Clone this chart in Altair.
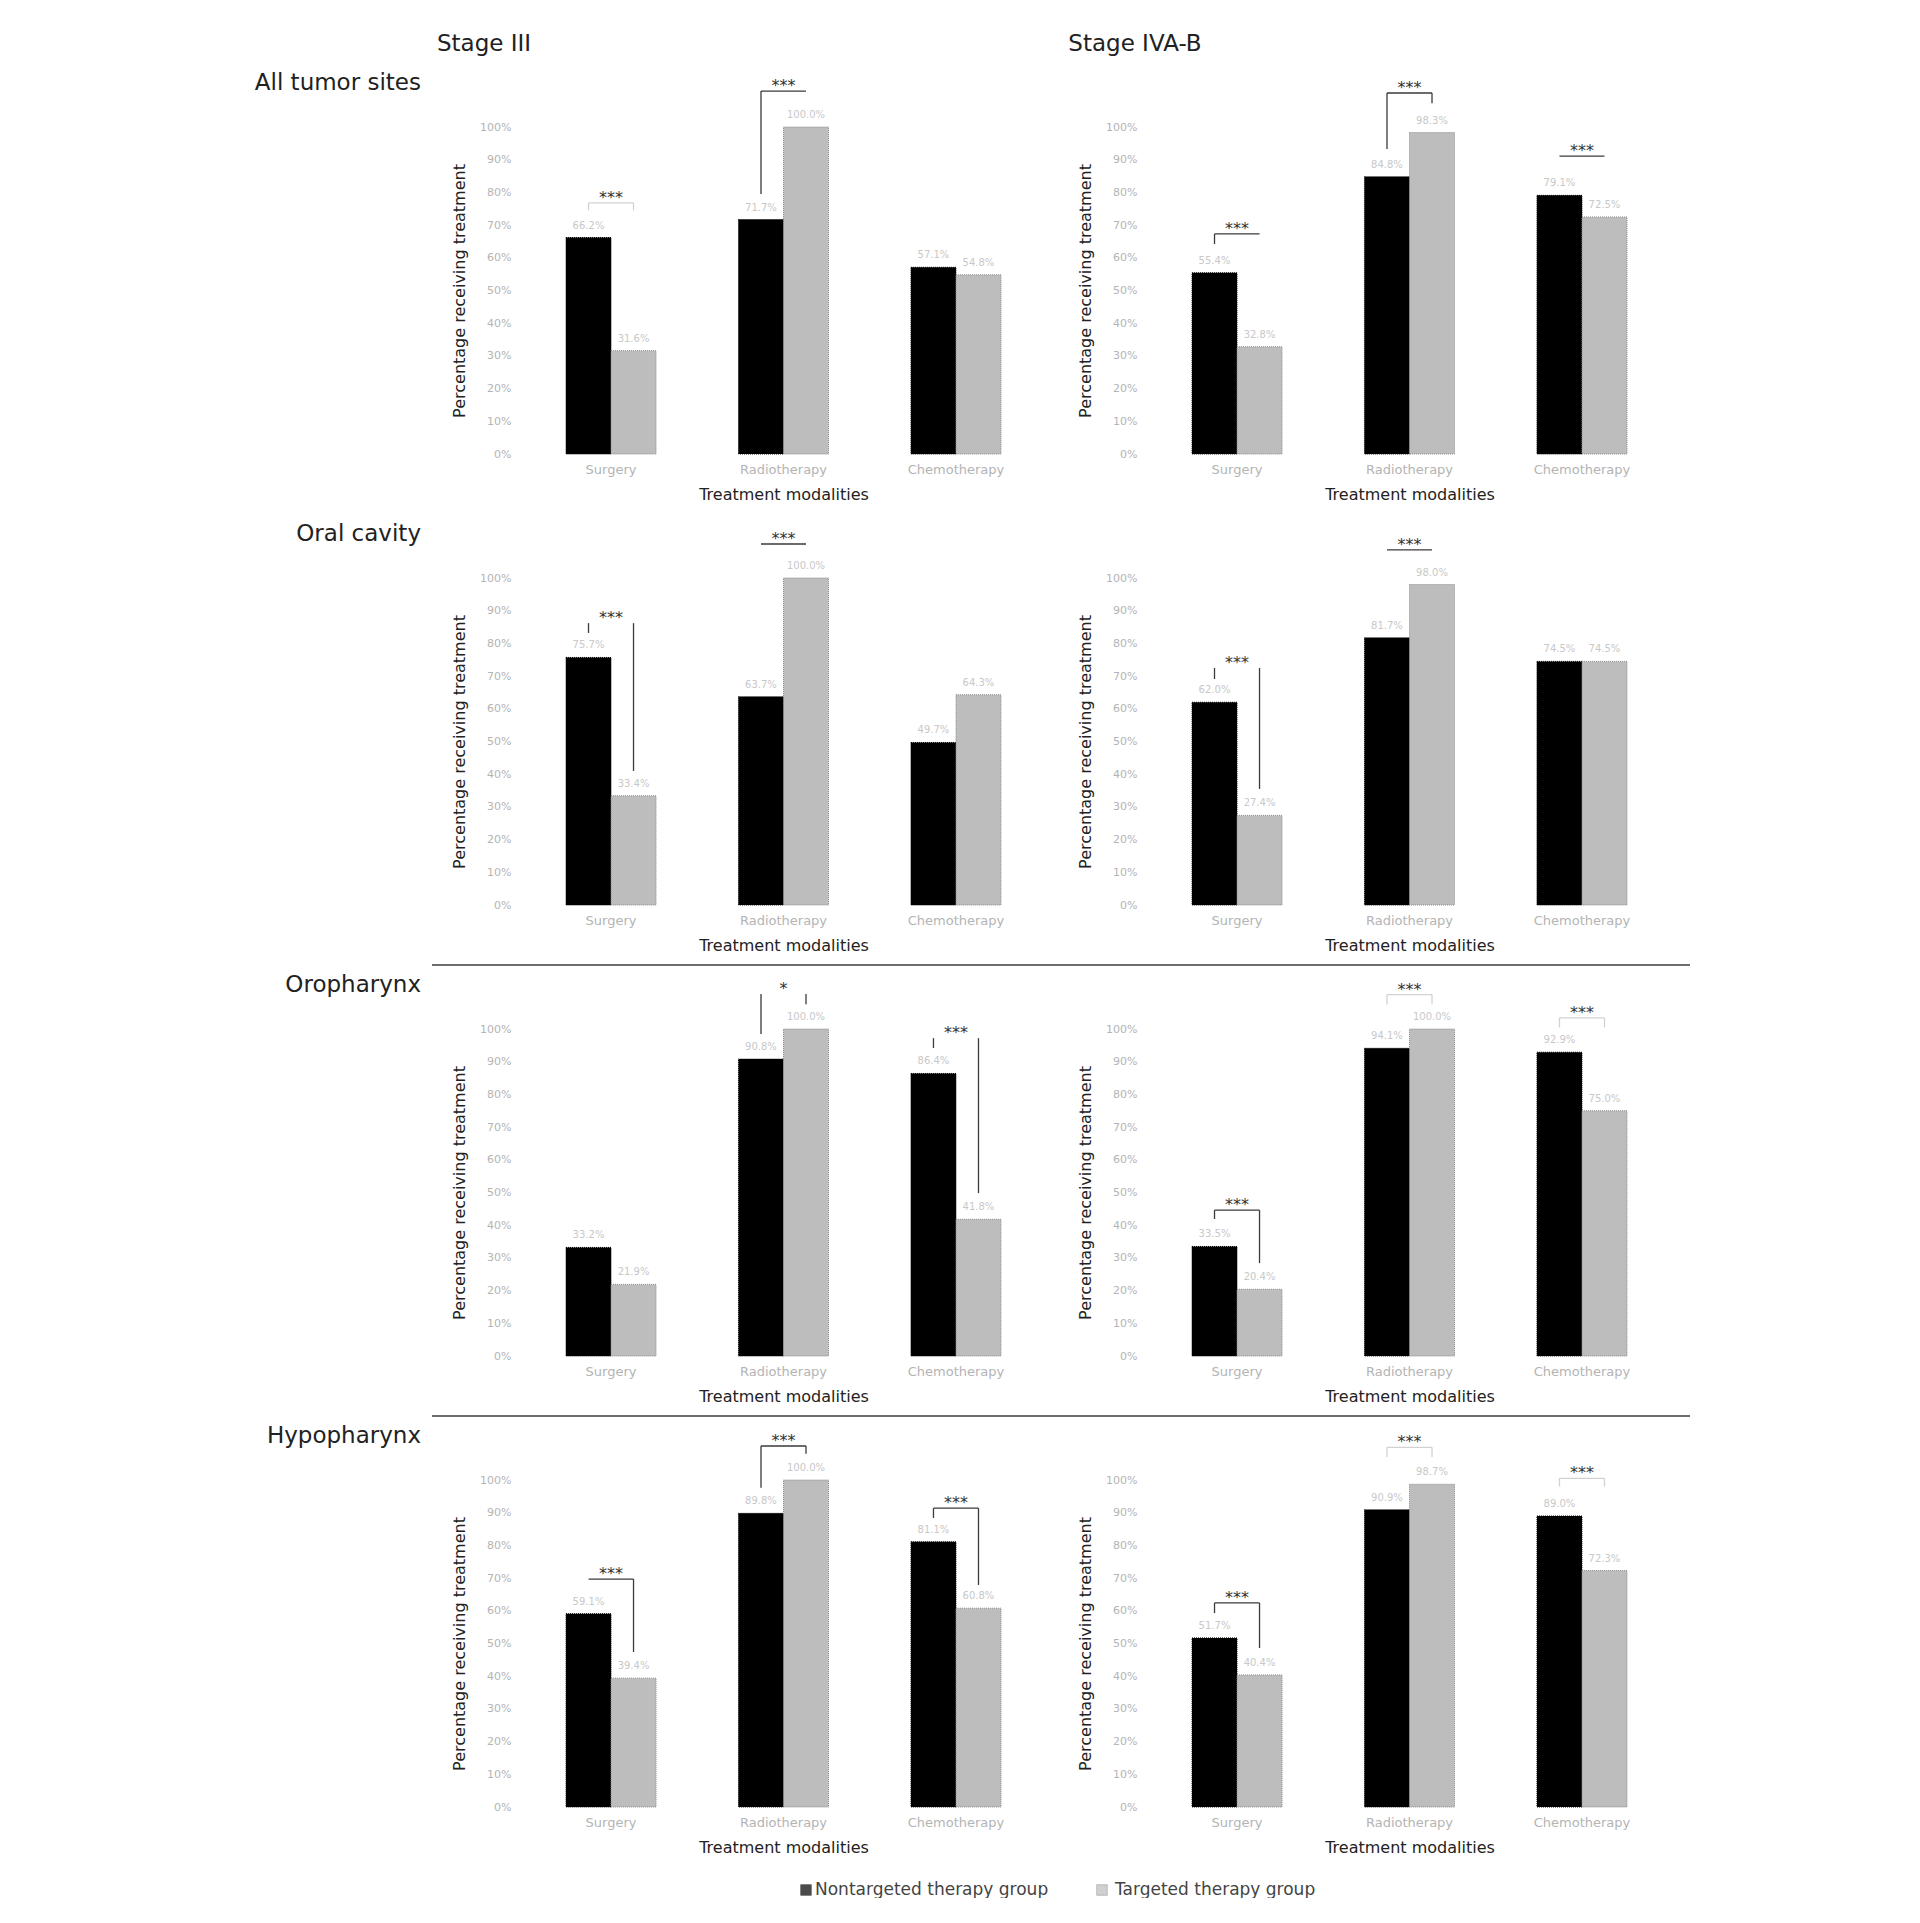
import altair as alt
import pandas as pd

FONT = "DejaVu Sans"

categories = ["Surgery", "Radiotherapy", "Chemotherapy"]
groups = ["Nontargeted therapy group", "Targeted therapy group"]
stages = ["Stage III", "Stage IVA-B"]
sites = ["All tumor sites", "Oral cavity", "Oropharynx", "Hypopharynx"]

# Percentage receiving treatment, order: Surgery, Radiotherapy, Chemotherapy
all_iii_non = [66.2, 71.7, 57.1]
all_iii_tgt = [31.6, 100.0, 54.8]
all_iva_non = [55.4, 84.8, 79.1]
all_iva_tgt = [32.8, 98.3, 72.5]
oral_iii_non = [75.7, 63.7, 49.7]
oral_iii_tgt = [33.4, 100.0, 64.3]
oral_iva_non = [62.0, 81.7, 74.5]
oral_iva_tgt = [27.4, 98.0, 74.5]
oro_iii_non = [33.2, 90.8, 86.4]
oro_iii_tgt = [21.9, 100.0, 41.8]
oro_iva_non = [33.5, 94.1, 92.9]
oro_iva_tgt = [20.4, 100.0, 75.0]
hypo_iii_non = [59.1, 89.8, 81.1]
hypo_iii_tgt = [39.4, 100.0, 60.8]
hypo_iva_non = [51.7, 90.9, 89.0]
hypo_iva_tgt = [40.4, 98.7, 72.3]

# significance brackets: (category, stars, bracket level %, horizontal line?, left leg end %, right leg end %, tone)
ann_all_iii = [("Surgery", "***", 76.8, True, 74.5, 74.5, "faint"),
               ("Radiotherapy", "***", 111.0, True, 79.5, None, "dark")]
ann_all_iva = [("Surgery", "***", 67.3, True, 64.2, None, "dark"),
               ("Radiotherapy", "***", 110.4, True, 93.3, 107.3, "dark"),
               ("Chemotherapy", "***", 91.1, True, None, None, "dark")]
ann_oral_iii = [("Surgery", "***", 86.2, False, 83.2, 41.0, "dark"),
                ("Radiotherapy", "***", 110.4, True, None, None, "dark")]
ann_oral_iva = [("Surgery", "***", 72.5, False, 69.1, 35.5, "dark"),
                ("Radiotherapy", "***", 108.6, True, None, None, "dark")]
ann_oro_iii = [("Radiotherapy", "*", 110.7, False, 98.5, 107.6, "dark"),
               ("Chemotherapy", "***", 97.2, False, 94.2, 49.8, "dark")]
ann_oro_iva = [("Surgery", "***", 44.6, True, 41.9, 28.4, "dark"),
               ("Radiotherapy", "***", 110.5, True, 107.5, 107.5, "faint"),
               ("Chemotherapy", "***", 103.4, True, 100.5, 100.5, "faint")]
ann_hypo_iii = [("Surgery", "***", 69.7, True, None, 47.4, "dark"),
                ("Radiotherapy", "***", 110.4, True, 97.6, 108.0, "dark"),
                ("Chemotherapy", "***", 91.4, True, 88.4, 67.9, "dark")]
ann_hypo_iva = [("Surgery", "***", 62.4, True, 59.3, 48.6, "dark"),
                ("Radiotherapy", "***", 110.0, True, 107.0, 107.0, "faint"),
                ("Chemotherapy", "***", 100.5, True, 98.0, 98.0, "faint")]

W, H = 529, 327
TONES = {"dark": "#3a3a3a", "faint": "#d2d2d2"}


def text_mark(text, x, y, size, color, align="left"):
    return alt.Chart(pd.DataFrame({"t": [text]})).mark_text(
        align=align, baseline="middle", fontSize=size, color=color, font=FONT
    ).encode(x=alt.value(x), y=alt.value(y), text="t:N")


def rule_mark(x1, x2, y, color, width):
    return alt.Chart(pd.DataFrame({"r": [0]})).mark_rule(color=color, strokeWidth=width).encode(
        x=alt.value(x1), x2=alt.value(x2), y=alt.value(y)
    )


def square_mark(x, y, fill, stroke):
    return alt.Chart(pd.DataFrame({"s": [0]})).mark_point(
        shape="square", filled=True, size=110, color=fill, stroke=stroke, strokeWidth=0.8
    ).encode(x=alt.value(x), y=alt.value(y))


def make_panel(non, tgt, ann, extras=()):
    df = pd.DataFrame({"category": categories * 2,
                       "group": [groups[0]] * 3 + [groups[1]] * 3,
                       "value": non + tgt})
    df["label"] = [f"{v:.1f}%" for v in df["value"]]
    xs = alt.Scale(domain=categories, paddingInner=0.478, paddingOuter=0.2725)
    ys = alt.Scale(domain=[0, 100], nice=False)
    xo = alt.XOffset("group:N", sort=groups, scale=alt.Scale(domain=groups))

    x_axis = alt.Axis(title="Treatment modalities", labelAngle=0, domain=False, ticks=False,
                      labelColor="#b4b4b4", labelFontSize=13, labelPadding=9,
                      titleFontSize=16, titleColor="#222222", titleFontWeight="normal",
                      titlePadding=10)
    y_axis = alt.Axis(title="Percentage receiving treatment", values=list(range(0, 101, 10)),
                      labelExpr="datum.value + '%'", domain=False, ticks=False, grid=False,
                      labelColor="#b4b4b4", labelFontSize=11, labelPadding=8,
                      titleFontSize=16, titleColor="#222222", titleFontWeight="normal",
                      titlePadding=12, minExtent=40, maxExtent=40)

    def xp():
        return alt.X("category:N", sort=categories, scale=xs, axis=x_axis)

    def yp(field):
        return alt.Y(f"{field}:Q", scale=ys, axis=y_axis)

    bars = alt.Chart(df).mark_bar(strokeWidth=1, strokeDash=[1, 1]).encode(
        x=xp(),
        xOffset=xo,
        y=yp("value"),
        color=alt.Color("group:N", scale=alt.Scale(domain=groups, range=["#000000", "#bdbdbd"]),
                        legend=None),
        stroke=alt.Stroke("group:N", scale=alt.Scale(domain=groups, range=["#000000", "#8c8c8c"]),
                          legend=None),
    )
    labels = alt.Chart(df).mark_text(fontSize=10, color="#c8c8c8", baseline="middle", dy=-12).encode(
        x=xp(), xOffset=xo, y=yp("value"), text="label:N"
    )

    seg_rows = []
    star_rows = []
    for k, (cat, stars, ly, hline, lb, rb, tone) in enumerate(ann):
        star_rows.append({"category": cat, "stars": stars, "value": ly})
        if hline:
            seg_rows += [{"seg": f"{k}h", "category": cat, "group": groups[0], "value": ly, "seq": 0, "tone": tone},
                         {"seg": f"{k}h", "category": cat, "group": groups[1], "value": ly, "seq": 1, "tone": tone}]
        if lb is not None:
            seg_rows += [{"seg": f"{k}l", "category": cat, "group": groups[0], "value": lb, "seq": 0, "tone": tone},
                         {"seg": f"{k}l", "category": cat, "group": groups[0], "value": ly, "seq": 1, "tone": tone}]
        if rb is not None:
            seg_rows += [{"seg": f"{k}r", "category": cat, "group": groups[1], "value": rb, "seq": 0, "tone": tone},
                         {"seg": f"{k}r", "category": cat, "group": groups[1], "value": ly, "seq": 1, "tone": tone}]
    seg_df = pd.DataFrame(seg_rows)

    layers = [bars, labels]
    for tone, col in TONES.items():
        sub = seg_df[seg_df["tone"] == tone]
        if len(sub):
            layers.append(alt.Chart(sub).mark_line(color=col, strokeWidth=1.3).encode(
                x=xp(), xOffset=xo, y=yp("value"),
                detail="seg:N", order="seq:Q"))
    star_df = pd.DataFrame(star_rows)
    layers.append(alt.Chart(star_df).mark_text(fontSize=16, color="#333333", baseline="alphabetic").encode(
        x=xp(), y=yp("value"), text="stars:N"))
    layers += list(extras)
    return alt.layer(*layers).properties(width=W, height=H)


ROW_LABEL_Y = -44
SEP_Y = -64

top_left_extras = [
    rule_mark(-510, -506, -118, "#ffffff", 1),
    text_mark(stages[0], -35, -83, 23, "#222222", "center"),
    text_mark(stages[1], 616, -83, 23, "#222222", "center"),
    text_mark(sites[0], -98, ROW_LABEL_Y, 23, "#222222", "right"),
]
row2_extras = [text_mark(sites[1], -98, ROW_LABEL_Y, 23, "#222222", "right")]
row3_extras = [text_mark(sites[2], -98, ROW_LABEL_Y, 23, "#222222", "right"),
               rule_mark(-87, 1171, SEP_Y, "#3c3c3c", 1.5)]
row4_extras = [text_mark(sites[3], -98, ROW_LABEL_Y, 23, "#222222", "right"),
               rule_mark(-87, 1171, SEP_Y, "#3c3c3c", 1.5),
               square_mark(287, 410, "#000000", "#000000"),
               text_mark(groups[0], 296, 410, 17, "#444444", "left"),
               square_mark(583, 410, "#bdbdbd", "#8c8c8c"),
               text_mark(groups[1], 596, 410, 17, "#444444", "left")]

panels = [
    make_panel(all_iii_non, all_iii_tgt, ann_all_iii, top_left_extras),
    make_panel(all_iva_non, all_iva_tgt, ann_all_iva),
    make_panel(oral_iii_non, oral_iii_tgt, ann_oral_iii, row2_extras),
    make_panel(oral_iva_non, oral_iva_tgt, ann_oral_iva),
    make_panel(oro_iii_non, oro_iii_tgt, ann_oro_iii, row3_extras),
    make_panel(oro_iva_non, oro_iva_tgt, ann_oro_iva),
    make_panel(hypo_iii_non, hypo_iii_tgt, ann_hypo_iii, row4_extras),
    make_panel(hypo_iva_non, hypo_iva_tgt, ann_hypo_iva),
]

chart = alt.concat(
    *panels, columns=2, spacing={"row": 124, "column": 97}, bounds="flush"
).properties(padding=0).configure(font=FONT).configure_view(strokeOpacity=0)

chart.save("out.html", embed_options={"renderer": "svg", "actions": False})
